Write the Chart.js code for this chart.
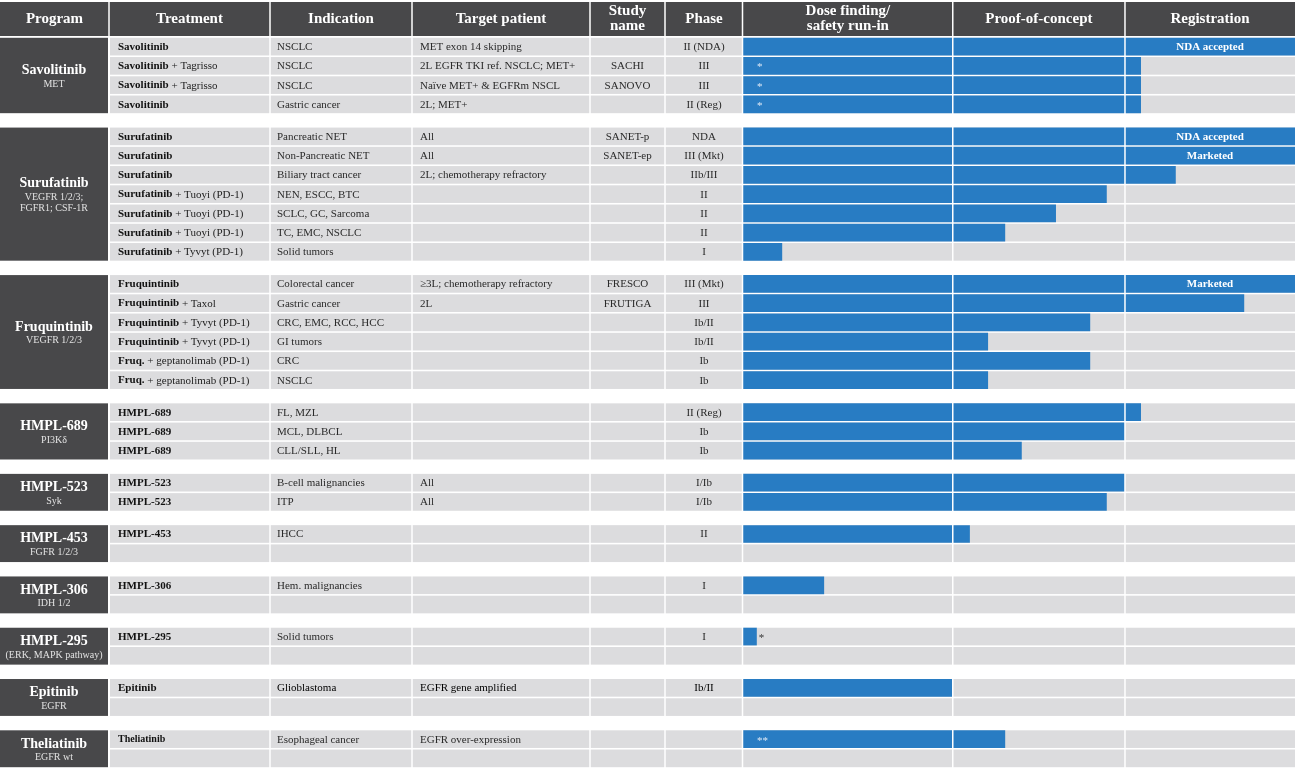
<!DOCTYPE html>
<html lang="en">
<head>
  <meta charset="UTF-8" />
  <title>Pipeline</title>
  <script src="https://cdn.jsdelivr.net/npm/chart.js"></script>
  <style>
    html, body {
      margin: 0;
      padding: 0;
      background: #fff;
    }
    canvas {
      display: block;
    }
  </style>
</head>
<body>
  <canvas id="pipeline" width="1298" height="770"></canvas>

  <script>
    // programs (one dark block each) and their targets
    const programs = ['Savolitinib', 'Surufatinib', 'Fruquintinib', 'HMPL-689', 'HMPL-523',
      'HMPL-453', 'HMPL-306', 'HMPL-295', 'Epitinib', 'Theliatinib'];
    const targets = [['MET'], ['VEGFR 1/2/3;', 'FGFR1; CSF-1R'], ['VEGFR 1/2/3'], ['PI3Kδ'], ['Syk'],
      ['FGFR 1/2/3'], ['IDH 1/2'], ['(ERK, MAPK pathway)'], ['EGFR'], ['EGFR wt']];

    // one entry per table row
    const rowProgram = [0, 0, 0, 0, 1, 1, 1, 1, 1, 1, 1, 2, 2, 2, 2, 2, 2, 3, 3, 3, 4, 4, 5, 5, 6, 6, 7, 7, 8, 8, 9, 9];
    const treatments = [
      'Savolitinib', 'Savolitinib + Tagrisso', 'Savolitinib + Tagrisso', 'Savolitinib',
      'Surufatinib', 'Surufatinib', 'Surufatinib', 'Surufatinib + Tuoyi (PD-1)', 'Surufatinib + Tuoyi (PD-1)',
      'Surufatinib + Tuoyi (PD-1)', 'Surufatinib + Tyvyt (PD-1)',
      'Fruquintinib', 'Fruquintinib + Taxol', 'Fruquintinib + Tyvyt (PD-1)', 'Fruquintinib + Tyvyt (PD-1)',
      'Fruq. + geptanolimab (PD-1)', 'Fruq. + geptanolimab (PD-1)',
      'HMPL-689', 'HMPL-689', 'HMPL-689', 'HMPL-523', 'HMPL-523', 'HMPL-453', '', 'HMPL-306', '',
      'HMPL-295', '', 'Epitinib', '', 'Theliatinib', ''];
    const indications = [
      'NSCLC', 'NSCLC', 'NSCLC', 'Gastric cancer',
      'Pancreatic NET', 'Non-Pancreatic NET', 'Biliary tract cancer', 'NEN, ESCC, BTC', 'SCLC, GC, Sarcoma',
      'TC, EMC, NSCLC', 'Solid tumors',
      'Colorectal cancer', 'Gastric cancer', 'CRC, EMC, RCC, HCC', 'GI tumors', 'CRC', 'NSCLC',
      'FL, MZL', 'MCL, DLBCL', 'CLL/SLL, HL', 'B-cell malignancies', 'ITP', 'IHCC', '', 'Hem. malignancies', '',
      'Solid tumors', '', 'Glioblastoma', '', 'Esophageal cancer', ''];
    const patients = [
      'MET exon 14 skipping', '2L EGFR TKI ref. NSCLC; MET+', 'Naïve MET+ & EGFRm NSCL', '2L; MET+',
      'All', 'All', '2L; chemotherapy refractory', '', '', '', '',
      '≥3L; chemotherapy refractory', '2L', '', '', '', '',
      '', '', '', 'All', 'All', '', '', '', '', '', '', 'EGFR gene amplified', '', 'EGFR over-expression', ''];
    const studies = [
      '', 'SACHI', 'SANOVO', '',
      'SANET-p', 'SANET-ep', '', '', '', '', '',
      'FRESCO', 'FRUTIGA', '', '', '', '',
      '', '', '', '', '', '', '', '', '', '', '', '', '', '', ''];
    const phases = [
      'II (NDA)', 'III', 'III', 'II (Reg)',
      'NDA', 'III (Mkt)', 'IIb/III', 'II', 'II', 'II', 'I',
      'III (Mkt)', 'III', 'Ib/II', 'Ib/II', 'Ib', 'Ib',
      'II (Reg)', 'Ib', 'Ib', 'I/Ib', 'I/Ib', 'II', '', 'I', '', 'I', '', 'Ib/II', '', '', ''];
    // progress along the stage track, in % of its width (null = no bar)
    const progress = [
      100, 72.1, 72.1, 72.1,
      100, 100, 78.4, 65.9, 56.7, 47.5, 7.1,
      100, 90.8, 62.9, 44.4, 62.9, 44.4,
      72.1, 69.2, 50.5, 69.2, 65.9, 41.1, null, 14.7, null, 2.5, null, 38.0, null, 47.5, null];
    const regLabels = [
      'NDA accepted', '', '', '',
      'NDA accepted', 'Marketed', '', '', '', '', '',
      'Marketed', '', '', '', '', '',
      '', '', '', '', '', '', '', '', '', '', '', '', '', '', ''];
    const marks = [
      '', '*', '*', '*', '', '', '', '', '', '', '', '', '', '', '', '', '',
      '', '', '', '', '', '', '', '', '', '*', '', '', '', '**', ''];

    // stage columns on the track
    const stages = [['Dose finding/', 'safety run-in'], ['Proof-of-concept'], ['Registration']];
    const stageBounds = [0, 38.0, 69.2, 100];

    // table columns left of the track
    const columns = [
      { title: ['Program'], x0: 0, x1: 109 },
      { title: ['Treatment'], x0: 109, x1: 270 },
      { title: ['Indication'], x0: 270, x1: 412 },
      { title: ['Target patient'], x0: 412, x1: 590 },
      { title: ['Study', 'name'], x0: 590, x1: 665 },
      { title: ['Phase'], x0: 665, x1: 743 }
    ];

    const DARK = '#48484a';
    const GRAY = '#dcdcde';
    const BLUE = '#287cc3';
    const SERIF = '"Liberation Serif", "DejaVu Serif", serif';
    const GAP = 0.665; // extra space between program groups, in rows

    const rowPos = rowProgram.map((g, i) => i + g * GAP);

    const bars = [];
    progress.forEach((v, i) => {
      if (v !== null) bars.push({ x: [0, v], y: rowPos[i], row: i });
    });

    const tablePlugin = {
      id: 'table',
      beforeDatasetsDraw(chart) {
        const { ctx, chartArea, scales: { y } } = chart;
        const pitch = Math.abs(y.getPixelForValue(1) - y.getPixelForValue(0));
        const half = pitch / 2;
        ctx.save();
        // header band
        ctx.fillStyle = DARK;
        ctx.fillRect(0, 2, chartArea.right, 34);
        // gray row cells
        ctx.fillStyle = GRAY;
        rowPos.forEach(p => {
          const c = y.getPixelForValue(p);
          ctx.fillRect(110, c - half + 0.8, chartArea.right - 110, pitch - 1.6);
        });
        // program blocks
        ctx.fillStyle = DARK;
        programs.forEach((name, g) => {
          const idx = rowProgram.map((p, i) => p === g ? i : -1).filter(i => i >= 0);
          const top = y.getPixelForValue(rowPos[idx[0]]) - half + 0.8;
          const bottom = y.getPixelForValue(rowPos[idx[idx.length - 1]]) + half - 0.8;
          ctx.fillRect(0, top, 108, bottom - top);
        });
        ctx.restore();
      },
      afterDatasetsDraw(chart) {
        const { ctx, chartArea, scales: { x, y } } = chart;
        ctx.save();

        // white column separators (over the bars too)
        const seps = [109, 270, 412, 590, 665, x.getPixelForValue(stageBounds[0]) - 0.5,
          x.getPixelForValue(stageBounds[1]), x.getPixelForValue(stageBounds[2])];
        ctx.strokeStyle = '#fff';
        ctx.lineWidth = 1.5;
        seps.forEach(sx => {
          ctx.beginPath();
          ctx.moveTo(sx, 2);
          ctx.lineTo(sx, chartArea.bottom);
          ctx.stroke();
        });

        // header titles
        ctx.fillStyle = '#fff';
        ctx.font = 'bold 15px ' + SERIF;
        ctx.textAlign = 'center';
        ctx.textBaseline = 'middle';
        const headerText = (lines, cx) => {
          if (lines.length === 1) {
            ctx.fillText(lines[0], cx, 19);
          } else {
            ctx.fillText(lines[0], cx, 11.5);
            ctx.fillText(lines[1], cx, 26.5);
          }
        };
        columns.forEach(col => headerText(col.title, (col.x0 + col.x1) / 2));
        stages.forEach((s, k) => {
          const cx = (x.getPixelForValue(stageBounds[k]) + x.getPixelForValue(stageBounds[k + 1])) / 2;
          headerText(s, cx);
        });

        // program names and targets
        programs.forEach((name, g) => {
          const idx = rowProgram.map((p, i) => p === g ? i : -1).filter(i => i >= 0);
          const cy = (y.getPixelForValue(rowPos[idx[0]]) + y.getPixelForValue(rowPos[idx[idx.length - 1]])) / 2;
          const sub = targets[g];
          const total = 15 + sub.length * 11.5;
          let ty = cy - total / 2 + 8.5;
          ctx.fillStyle = '#fff';
          ctx.font = 'bold 14px ' + SERIF;
          ctx.textAlign = 'center';
          ctx.fillText(name, 54, ty);
          ty += 13.5;
          ctx.fillStyle = '#e2e2e2';
          ctx.font = '10px ' + SERIF;
          sub.forEach(line => {
            ctx.fillText(line, 54, ty);
            ty += 11.5;
          });
        });

        // row texts
        rowPos.forEach((p, i) => {
          const c = y.getPixelForValue(p) + 0.5;
          const strong = i === 28;
          ctx.textAlign = 'left';
          const t = treatments[i];
          if (t) {
            const cut = t.indexOf(' + ');
            const head = cut >= 0 ? t.slice(0, cut) : t;
            const rest = cut >= 0 ? t.slice(cut) : '';
            ctx.fillStyle = '#111';
            ctx.font = 'bold ' + (i === 30 ? 10 : 11) + 'px ' + SERIF;
            ctx.fillText(head, 118, c);
            const w = ctx.measureText(head).width;
            ctx.font = '11px ' + SERIF;
            ctx.fillStyle = '#222';
            ctx.fillText(rest, 118 + w, c);
          }
          ctx.font = '11px ' + SERIF;
          ctx.fillStyle = strong ? '#000' : '#2a2a2a';
          ctx.fillText(indications[i], 277, c);
          ctx.fillText(patients[i], 420, c);
          ctx.textAlign = 'center';
          ctx.fillText(studies[i], 627.5, c);
          ctx.fillText(phases[i], 704, c);
        });

        // stage annotations
        const reg0 = x.getPixelForValue(stageBounds[2]);
        const reg1 = x.getPixelForValue(stageBounds[3]);
        rowPos.forEach((p, i) => {
          const c = y.getPixelForValue(p) + 0.5;
          if (regLabels[i]) {
            ctx.fillStyle = '#fff';
            ctx.font = 'bold 11px ' + SERIF;
            ctx.textAlign = 'center';
            ctx.fillText(regLabels[i], (reg0 + reg1) / 2, c);
          }
          if (marks[i]) {
            const x0 = x.getPixelForValue(0);
            const x1 = x.getPixelForValue(progress[i]);
            ctx.font = '11px ' + SERIF;
            ctx.textAlign = 'left';
            if (x1 - x0 > 30) {
              ctx.fillStyle = '#dfe9f5';
              ctx.fillText(marks[i], x0 + 14, c + 1);
            } else {
              ctx.fillStyle = '#333';
              ctx.fillText(marks[i], x1 + 2, c + 1);
            }
          }
        });
        ctx.restore();
      }
    };

    new Chart(document.getElementById('pipeline'), {
      type: 'bar',
      data: {
        datasets: [{
          data: bars,
          backgroundColor: BLUE,
          borderWidth: 0,
          barPercentage: 1,
          categoryPercentage: 0.92
        }]
      },
      options: {
        indexAxis: 'y',
        responsive: false,
        animation: false,
        layout: {
          padding: { left: 743, top: 37, right: 3, bottom: 2 }
        },
        scales: {
          x: { type: 'linear', min: 0, max: 100, display: false },
          y: {
            type: 'linear',
            offset: false,
            min: -0.5,
            max: rowPos[rowPos.length - 1] + 0.5,
            reverse: true,
            display: false
          }
        },
        plugins: {
          legend: { display: false },
          tooltip: { enabled: false }
        }
      },
      plugins: [tablePlugin]
    });
  </script>
</body>
</html>
